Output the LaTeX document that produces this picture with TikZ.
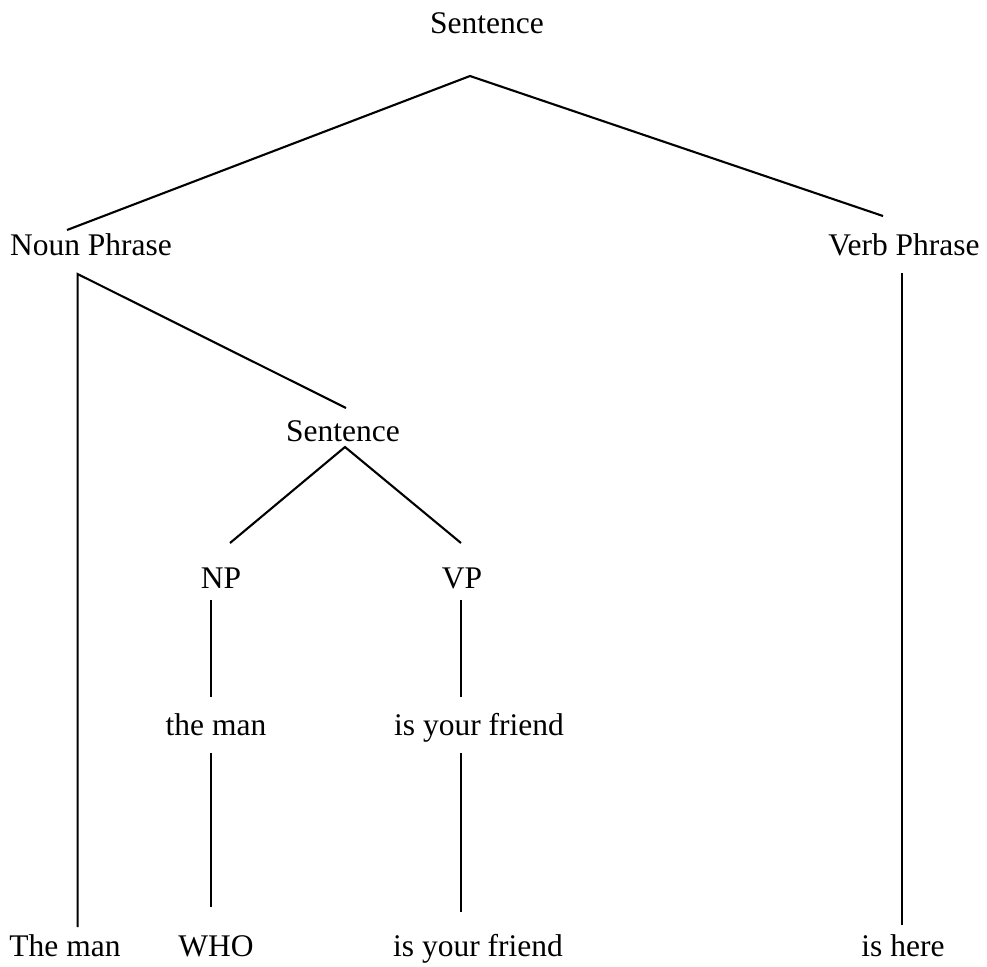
\documentclass[tikz,border=0pt]{standalone}
\usepackage{fontspec}
\setmainfont{Liberation Serif}
\begin{document}
\begin{tikzpicture}[x=0.381pt,y=-0.381pt,line width=0.8pt,
        every node/.style={anchor=base,inner sep=0pt,font=\fontsize{12}{14}\selectfont}]
        \useasboundingbox (0,0) rectangle (987,966);
        \node (S) at (487,33) {Sentence};
        \node (NP) at (91,255) {Noun Phrase};
        \node (VP) at (904,255) {Verb Phrase};
        \node (S2) at (343,441) {Sentence};
        \node (np) at (221,588) {NP};
        \node (vp) at (462,588) {VP};
        \node (TM) at (216,735) {the man};
        \node (YF) at (479,735) {is your friend};
        \node (TM2) at (65,956) {The man};
        \node (W) at (216,956) {WHO};
        \node (YF2) at (478,956) {is your friend};
        \node (H) at (903,956) {is here};
        \coordinate (SB) at (470,76);
        \coordinate (NPT) at (67,230);
        \coordinate (VPT) at (883,216);
        \coordinate (NPB) at (77.6,274);
        \coordinate (S2T) at (346,408);
        \coordinate (S2B) at (345,447);
        \coordinate (npT) at (230,543);
        \coordinate (vpT) at (461,543);
        \coordinate (npB) at (211,600);
        \coordinate (vpB) at (461,600);
        \coordinate (TMT) at (211,697);
        \coordinate (YFT) at (461,697);
        \coordinate (TMB) at (211,753);
        \coordinate (YFB) at (461,753);
        \coordinate (TM2T) at (77.6,927);
        \coordinate (WT) at (211,907);
        \coordinate (YF2T) at (461,912);
        \coordinate (VPB) at (902,273);
        \coordinate (HT) at (902,925);
        \draw (NPT) -- (SB) -- (VPT);
        \draw (TM2T) -- (NPB) -- (S2T);
        \draw (npT) -- (S2B) -- (vpT);
        \draw (npB) -- (TMT);
        \draw (TMB) -- (WT);
        \draw (vpB) -- (YFT);
        \draw (YFB) -- (YF2T);
        \draw (VPB) -- (HT);
    \end{tikzpicture}
\end{document}
